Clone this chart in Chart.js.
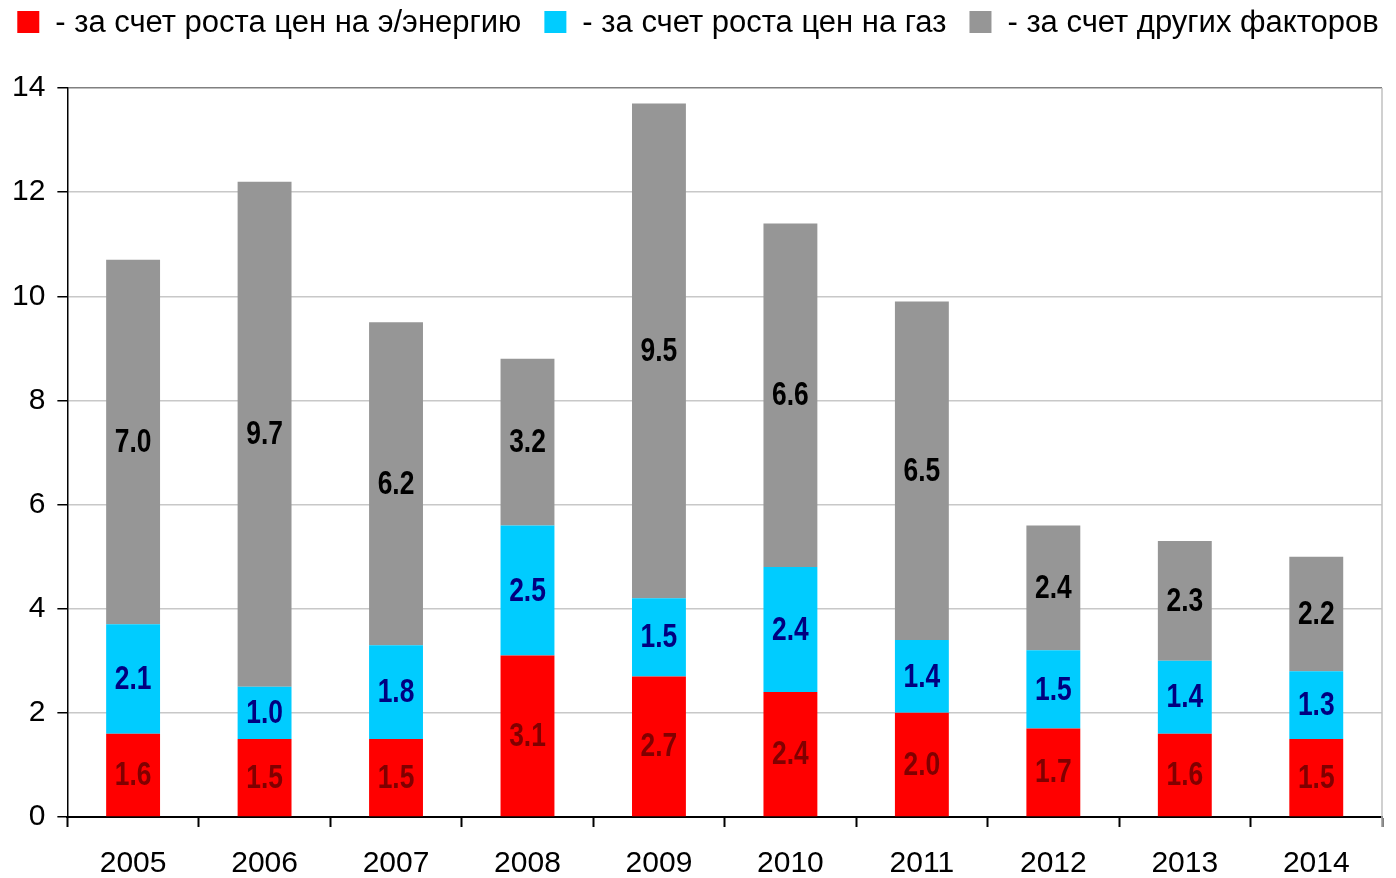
<!DOCTYPE html>
<html lang="ru">
<head>
  <meta charset="UTF-8">
  <title>Факторы роста</title>
  <style>
    html, body { margin: 0; padding: 0; background: #fff; }
    #wrap { width: 1396px; height: 878px; }
  </style>
</head>
<body>
  <div id="wrap"><canvas id="grafik" width="1396" height="878"></canvas></div>

  <script src="https://cdn.jsdelivr.net/npm/chart.js"></script>
  <script>
    const years = ['2005', '2006', '2007', '2008', '2009', '2010', '2011', '2012', '2013', '2014'];
    const electro = [1.6, 1.5, 1.5, 3.1, 2.7, 2.4, 2.0, 1.7, 1.6, 1.5];
    const gas = [2.1, 1.0, 1.8, 2.5, 1.5, 2.4, 1.4, 1.5, 1.4, 1.3];
    const other = [7.0, 9.7, 6.2, 3.2, 9.5, 6.6, 6.5, 2.4, 2.3, 2.2];
    const yTicks = [0, 2, 4, 6, 8, 10, 12, 14];

    const mainFont = '"Liberation Sans", Arial, sans-serif';

    // подписи значений в центре сегментов (узкий шрифт имитируем сжатием)
    const segmentLabels = {
      id: 'segmentLabels',
      afterDatasetsDraw(chart) {
        const c = chart.ctx;
        const sx = 0.8;
        chart.data.datasets.forEach((ds, i) => {
          const meta = chart.getDatasetMeta(i);
          meta.data.forEach((bar, j) => {
            const mid = (bar.y + bar.base) / 2;
            c.save();
            c.translate(bar.x, mid + 1);
            c.scale(sx, 1);
            c.font = 'bold 33px ' + mainFont;
            c.textAlign = 'center';
            c.textBaseline = 'middle';
            c.fillStyle = ds.labelColor;
            c.fillText(ds.data[j].toFixed(1), 0, 0);
            c.restore();
          });
        });
      }
    };

    // правая граница области графика
    const rightBorder = {
      id: 'rightBorder',
      beforeDatasetsDraw(chart) {
        const a = chart.chartArea;
        const c = chart.ctx;
        c.save();
        c.strokeStyle = '#c0c0c0';
        c.lineWidth = 1.5;
        c.beginPath();
        c.moveTo(a.right, a.top);
        c.lineTo(a.right, a.bottom + 10);
        c.stroke();
        c.restore();
      }
    };

    // легенда в одну строку по всей ширине
    const topLegend = {
      id: 'topLegend',
      afterDraw(chart) {
        const c = chart.ctx;
        const box = 22, gapText = 16, gapItem = 23, cy = 22;
        c.save();
        c.font = '31px ' + mainFont;
        c.textBaseline = 'middle';
        const items = chart.data.datasets.map(ds => ({ ds, w: c.measureText(ds.label).width }));
        const total = items.reduce((s, it) => s + box + gapText + it.w, 0) + gapItem * (items.length - 1);
        let x = (chart.width - total) / 2;
        items.forEach(it => {
          c.fillStyle = it.ds.backgroundColor;
          c.fillRect(x, cy - box / 2, box, box);
          x += box + gapText;
          c.fillStyle = '#000';
          c.fillText(it.ds.label, x, cy + 1);
          x += it.w + gapItem;
        });
        c.restore();
      }
    };

    new Chart(document.getElementById('grafik'), {
      type: 'bar',
      data: {
        labels: years,
        datasets: [
          { label: '- за счет роста цен на э/энергию', data: electro, backgroundColor: '#ff0000', labelColor: '#800000' },
          { label: '- за счет роста цен на газ', data: gas, backgroundColor: '#00ccff', labelColor: '#000080' },
          { label: '- за счет других факторов', data: other, backgroundColor: '#969696', labelColor: '#000000' }
        ]
      },
      options: {
        responsive: false,
        animation: false,
        layout: { padding: { top: 88, right: 14, left: 0, bottom: -23 } },
        datasets: { bar: { barPercentage: 0.41, categoryPercentage: 1.0 } },
        plugins: {
          legend: { display: false },
          tooltip: { enabled: false }
        },
        scales: {
          x: {
            stacked: true,
            offset: true,
            grid: {
              offset: true,
              drawOnChartArea: false,
              tickLength: 10,
              tickColor: '#000',
              tickWidth: 2
            },
            border: { color: '#000', width: 2 },
            ticks: { color: '#000', padding: 19, font: { family: mainFont, size: 30 } }
          },
          y: {
            stacked: true,
            min: 0,
            max: 14,
            afterBuildTicks(axis) { axis.ticks = yTicks.map(v => ({ value: v })); },
            grid: {
              color: ctx => (ctx.tick && ctx.tick.value === 14 ? '#808080' : '#c8c8c8'),
              lineWidth: 1.5,
              tickLength: 10,
              tickColor: '#000'
            },
            border: { color: '#000', width: 1.5 },
            ticks: { color: '#000', padding: 12, font: { family: mainFont, size: 30 } }
          }
        }
      },
      plugins: [segmentLabels, rightBorder, topLegend]
    });
  </script>
</body>
</html>
